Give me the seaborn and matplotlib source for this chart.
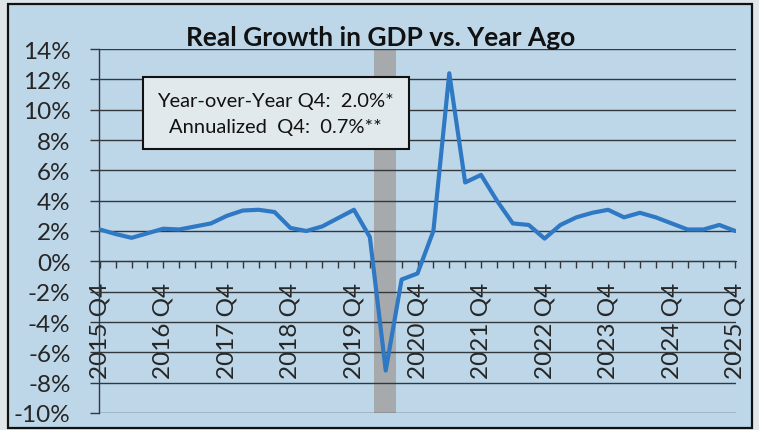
import seaborn as sns
import matplotlib.pyplot as plt
import matplotlib.patches as patches
import pandas as pd

# quarterly real GDP growth vs. a year ago, 2015 Q4 .. 2025 Q4
quarters = [f"{2015 + (i + 3) // 4} Q{(i + 3) % 4 + 1}" for i in range(41)]
growth = [2.1, 1.8, 1.55, 1.85, 2.15, 2.1, 2.3, 2.5, 3.0, 3.35,
          3.4, 3.25, 2.2, 2.0, 2.3, 2.85, 3.4, 1.6, -7.2, -1.2,
          -0.8, 2.0, 12.4, 5.2, 5.7, 4.0, 2.5, 2.4, 1.5, 2.4,
          2.9, 3.2, 3.4, 2.9, 3.2, 2.9, 2.5, 2.1, 2.1, 2.4,
          2.0]
tick_labels = ["2015 Q4", "2016 Q4", "2017 Q4", "2018 Q4", "2019 Q4", "2020 Q4",
               "2021 Q4", "2022 Q4", "2023 Q4", "2024 Q4", "2025 Q4"]
recession = ("2020 Q1", "2020 Q2")
box_lines = ["Year-over-Year Q4:  2.0%*", "Annualized  Q4:  0.7%**"]

df = pd.DataFrame({"quarter": quarters, "growth": growth})
df["pos"] = range(len(df))

sns.set_style("white")
plt.rcParams['font.family'] = ['Lato', 'DejaVu Sans']

bg = '#bdd7e9'
grid_c = '#33383d'
fig = plt.figure(figsize=(7.59, 4.31), dpi=100, facecolor='#dfe5e8')
fig.patches.append(patches.Rectangle((8 / 759, 1 - 429 / 431), 744 / 759, 424 / 431,
                                     transform=fig.transFigure, facecolor=bg,
                                     edgecolor='#111111', lw=1.6, zorder=-10))
ax = fig.add_axes([99 / 759, 1 - 414 / 431, 637 / 759, 364 / 431])
ax.set_facecolor(bg)

# recession shading
r0 = quarters.index(recession[0])
r1 = quarters.index(recession[1])
ax.axvspan(r0 + 0.25, r1 + 0.65, color='#a7aaac', lw=0, zorder=1)

for v in range(-10, 15, 2):
    ax.axhline(v, color=grid_c, lw=1.0, zorder=2)

sns.lineplot(data=df, x="pos", y="growth", color='#2f78c4', lw=3.0, ax=ax, zorder=3)

ax.set_ylim(-10, 14)
ax.set_xlim(-0.05, 40.05)
ax.set_yticks(range(-10, 15, 2))
ax.set_yticklabels([f"{v}%" for v in range(-10, 15, 2)])
ax.tick_params(axis='y', left=True, length=6.5, width=1.0, color=grid_c, pad=14,
               direction='out', labelsize=17.5)

label_pos = [quarters.index(t) for t in tick_labels]
ax.set_xticks(df["pos"], minor=True)
ax.set_xticks(label_pos)
ax.set_xticklabels(tick_labels)
ax.tick_params(axis='x', which='both', bottom=True, length=5, width=1.0, color=grid_c,
               direction='out', pad=10)
ax.tick_params(axis='x', which='major', labelsize=17.5, labelrotation=90)
ax.set_xlabel("")
ax.set_ylabel("")

for s in ['top', 'right']:
    ax.spines[s].set_visible(False)
ax.spines['bottom'].set_position(('data', 0))
ax.spines['bottom'].set_color(grid_c)
ax.spines['left'].set_color(grid_c)
ax.spines['left'].set_linewidth(1.0)

fig.text(381 / 759, 1 - 38 / 431, "Real Growth in GDP vs. Year Ago", ha='center', va='center',
         fontsize=19, fontweight='bold', color='#111111')

# annotation box
fig.patches.append(patches.Rectangle((143 / 759, 1 - 150 / 431), 266 / 759, 72 / 431,
                                     transform=fig.transFigure, facecolor='#e2e9ed',
                                     edgecolor='#111111', lw=1.5, zorder=5))
fig.text(275 / 759, 1 - 101 / 431, box_lines[0], ha='center', va='center', fontsize=14.5,
         color='#111111', zorder=6)
fig.text(275 / 759, 1 - 128 / 431, box_lines[1], ha='center', va='center', fontsize=14.5,
         color='#111111', zorder=6)

plt.savefig('out.png', dpi=100, facecolor=fig.get_facecolor())
